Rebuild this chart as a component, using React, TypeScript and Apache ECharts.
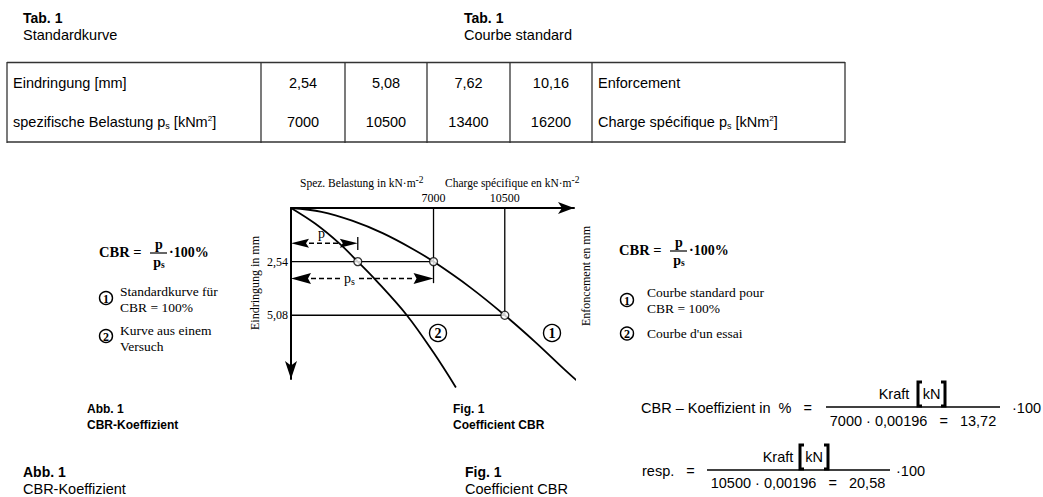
import React, { useEffect, useRef } from "react";
import * as echarts from "echarts";

const SANS = "'Liberation Sans', Arial, Helvetica, sans-serif";
const SERIF = "'Liberation Serif', 'Times New Roman', Times, serif";

// ---- Table 1 (standard curve) ----
const tableTitleDe = "Standardkurve";
const tableTitleFr = "Courbe standard";
const penetrationMm = [2.54, 5.08, 7.62, 10.16];
const standardLoad = [7000, 10500, 13400, 16200];

// ---- Fig. 1 data: [specific load kN/m², penetration mm] ----
const standardCurve = [
  [0, 0], [1500, 0.18], [3000, 0.6], [4500, 1.19], [6000, 1.95], [7000, 2.54],
  [8800, 3.76], [10500, 5.08], [12000, 6.35], [13400, 7.62], [14250, 8.36],
];
const testCurve = [
  [0, 0], [1200, 0.75], [2400, 1.7], [3280, 2.54], [4130, 3.38], [5690, 5.08],
  [7000, 6.85], [8100, 8.5],
];
const testLoadAt254 = 3280;
const xLabelValues = [7000, 10500];
const yLabelValues = [2.54, 5.08];
const pArrowDepth = 1.67;
const psArrowDepth = 3.34;
const psGuideDepth = 3.56;
const pTickRange = [1.37, 1.99];
const loadFactor = 0.00196;

const comma = (v: number, d: number) => v.toFixed(d).replace(".", ",");

function txt(text: string, x: number, y: number, o: any = {}) {
  return {
    type: "text",
    x,
    y,
    rotation: o.rotation || 0,
    silent: true,
    z: 10,
    style: {
      text,
      fill: "#000",
      fontFamily: o.family || SANS,
      fontSize: o.size || 14.5,
      fontWeight: o.weight || "normal",
      align: o.align || "left",
      verticalAlign: "middle",
      rich: o.rich,
      backgroundColor: o.bg,
      padding: o.padding,
    },
  };
}
function ln(x1: number, y1: number, x2: number, y2: number, w = 1.3, color = "#000") {
  return { type: "line", silent: true, z: 10, shape: { x1, y1, x2, y2 }, style: { stroke: color, lineWidth: w } };
}
function circled(d: string, cx: number, cy: number, r: number, size: number) {
  return [
    { type: "circle", silent: true, z: 10, shape: { cx, cy, r }, style: { fill: "none", stroke: "#000", lineWidth: 1.4 } },
    txt(d, cx, cy + 0.5, { family: SERIF, size, weight: "bold", align: "center" }),
  ];
}
function bracket(x: number, top: number, bottom: number, dir: number) {
  return {
    type: "polyline",
    silent: true,
    z: 10,
    shape: { points: [[x + dir * 4, top], [x, top], [x, bottom], [x + dir * 4, bottom]] },
    style: { stroke: "#000", lineWidth: 3, fill: "none" },
  };
}

function buildGraphic() {
  const els: any[] = [];
  // Table headings
  els.push(txt("Tab. 1", 23, 18, { weight: "bold", size: 14 }));
  els.push(txt(tableTitleDe, 23, 35));
  els.push(txt("Tab. 1", 464, 18, { weight: "bold", size: 14 }));
  els.push(txt(tableTitleFr, 464, 35));
  // Table frame
  const colX = [7, 261, 345, 427, 510, 592, 845];
  els.push(ln(7, 62.5, 845, 62.5, 1.6, "#333"));
  els.push(ln(7, 142, 845, 142, 1.6, "#333"));
  colX.forEach((x) => els.push(ln(x, 62, x, 143, 1.3, "#333")));
  const r1 = 82.5, r2 = 122;
  els.push(txt("Eindringung [mm]", 13, r1));
  const richRow = {
    a: { fontFamily: SANS, fontSize: 14.5 },
    sub: { fontFamily: SANS, fontSize: 9, padding: [7, 0, 0, 0] },
    sup: { fontFamily: SANS, fontSize: 8, padding: [0, 0, 8, 0] },
  };
  els.push(txt("{a|spezifische Belastung p}{sub|s}{a| [kNm}{sup|2}{a|]}", 13, r2, { rich: richRow }));
  penetrationMm.forEach((v, i) => {
    const cx = (colX[i + 1] + colX[i + 2]) / 2;
    els.push(txt(comma(v, 2), cx, r1, { align: "center" }));
    els.push(txt(String(standardLoad[i]), cx, r2, { align: "center" }));
  });
  els.push(txt("Enforcement", 598, r1));
  els.push(txt("{a|Charge spécifique p}{sub|s}{a| [kNm}{sup|2}{a|]}", 598, r2, { rich: richRow }));

  // Chart axis titles
  const richAx = {
    a: { fontFamily: SERIF, fontSize: 11.5 },
    s: { fontFamily: SERIF, fontSize: 9.5, padding: [0, 0, 7, 0] },
  };
  els.push(txt("{a|Spez. Belastung in kN·m}{s|-2}", 300, 183, { rich: richAx }));
  els.push(txt("{a|Charge spécifique en kN·m}{s|-2}", 445, 183, { rich: richAx }));
  els.push(txt("Eindringung in mm", 255, 283, { family: SERIF, size: 12, align: "center", rotation: Math.PI / 2 }));
  els.push(txt("Enfoncement en mm", 586, 276, { family: SERIF, size: 12, align: "center", rotation: Math.PI / 2 }));
  els.push(txt("p", 318, 233, { family: SERIF, size: 14 }));
  els.push(
    txt("{a|p}{s|s}", 342, 278.5, {
      rich: {
        a: { fontFamily: SERIF, fontSize: 14 },
        s: { fontFamily: SERIF, fontSize: 10, padding: [6, 0, 0, 0] },
      },
      bg: "#fff",
      padding: [0, 2, 0, 2],
    })
  );
  els.push(...circled("2", 438, 333, 8.5, 14));
  els.push(...circled("1", 552, 333, 8.5, 14));

  // CBR formula blocks
  const formula = (x0: number, y0: number) => {
    els.push(txt("CBR =", x0, y0, { family: SERIF, size: 14.5, weight: "bold" }));
    els.push(txt("p", x0 + 60, y0 - 7.5, { family: SERIF, size: 14, weight: "bold", align: "center" }));
    els.push(ln(x0 + 51, y0 + 1, x0 + 68, y0 + 1, 1.2));
    els.push(
      txt("{a|p}{s|s}", x0 + 60, y0 + 10.5, {
        align: "center",
        rich: {
          a: { fontFamily: SERIF, fontSize: 14, fontWeight: "bold" },
          s: { fontFamily: SERIF, fontSize: 9.5, fontWeight: "bold", padding: [5, 0, 0, 0] },
        },
      })
    );
    els.push(txt("·100%", x0 + 70, y0, { family: SERIF, size: 14, weight: "bold" }));
  };
  formula(99, 252);
  formula(619, 250);

  els.push(...circled("1", 106, 298, 6.5, 12));
  els.push(txt("Standardkurve für", 120, 291, { family: SERIF, size: 13.5 }));
  els.push(txt("CBR = 100%", 120, 307, { family: SERIF, size: 13.5 }));
  els.push(...circled("2", 106, 336, 6.5, 12));
  els.push(txt("Kurve aus einem", 120, 330, { family: SERIF, size: 13.5 }));
  els.push(txt("Versuch", 120, 346, { family: SERIF, size: 13.5 }));

  els.push(...circled("1", 627, 300, 6.5, 12));
  els.push(txt("Courbe standard pour", 647, 292.5, { family: SERIF, size: 13.5 }));
  els.push(txt("CBR = 100%", 647, 308, { family: SERIF, size: 13.5 }));
  els.push(...circled("2", 627, 333.5, 6.5, 12));
  els.push(txt("Courbe d'un essai", 647, 333.5, { family: SERIF, size: 13.5 }));

  // Captions
  els.push(txt("Abb. 1", 87, 409, { size: 12, weight: "bold" }));
  els.push(txt("CBR-Koeffizient", 87, 425, { size: 12, weight: "bold" }));
  els.push(txt("Fig. 1", 453, 409, { size: 12, weight: "bold" }));
  els.push(txt("Coefficient CBR", 453, 425, { size: 12, weight: "bold" }));
  els.push(txt("Abb. 1", 23, 472, { weight: "bold", size: 14 }));
  els.push(txt("CBR-Koeffizient", 23, 489));
  els.push(txt("Fig. 1", 465, 472, { weight: "bold", size: 14 }));
  els.push(txt("Coefficient CBR", 465, 489));

  // CBR coefficient formulas
  const f1 = standardLoad[0] * loadFactor;
  const f2 = standardLoad[1] * loadFactor;
  els.push(txt("CBR – Koeffizient in  %   =", 641, 408));
  els.push(ln(826, 407, 1000, 407, 1.3));
  els.push(txt("Kraft", 894, 394, { align: "center" }));
  els.push(bracket(918, 382, 406, 1));
  els.push(txt("kN", 931.5, 394, { align: "center" }));
  els.push(bracket(945, 382, 406, -1));
  els.push(txt(`${standardLoad[0]} · ${comma(loadFactor, 5)}   =   ${comma(f1, 2)}`, 913, 421, { align: "center" }));
  els.push(txt("·100", 1012, 408));

  els.push(txt("resp.   =", 642, 471));
  els.push(ln(707, 470, 890, 470, 1.3));
  els.push(txt("Kraft", 778, 457, { align: "center" }));
  els.push(bracket(800, 445, 469, 1));
  els.push(txt("kN", 814, 457, { align: "center" }));
  els.push(bracket(828, 445, 469, -1));
  els.push(txt(`${standardLoad[1]} · ${comma(loadFactor, 5)}   =   ${comma(f2, 2)}`, 798, 483, { align: "center" }));
  els.push(txt("·100", 896, 471));
  return els;
}

function buildOption() {
  const lineStyle = { color: "#000", width: 1.3 };
  const guide = (data: number[][]) => ({
    type: "line",
    data,
    symbol: "none",
    lineStyle,
    silent: true,
    clip: false,
    z: 2,
  });
  return {
    animation: false,
    backgroundColor: "#fff",
    textStyle: { fontFamily: SERIF },
    grid: { left: 291, top: 208, width: 283, height: 171, containLabel: false },
    xAxis: {
      type: "value",
      min: 0,
      max: 13900,
      position: "top",
      axisLine: {
        show: true,
        onZero: false,
        symbol: ["none", "arrow"],
        symbolSize: [9, 16],
        lineStyle: { color: "#000", width: 2 },
      },
      axisTick: { show: false },
      splitLine: { show: false },
      axisLabel: {
        customValues: xLabelValues,
        formatter: (v: number) => String(v),
        fontFamily: SERIF,
        fontSize: 12,
        color: "#000",
        margin: 4,
      },
    },
    yAxis: {
      type: "value",
      min: 0,
      max: 8.1,
      inverse: true,
      position: "left",
      axisLine: {
        show: true,
        onZero: false,
        symbol: ["arrow", "none"],
        symbolSize: [9, 18],
        lineStyle: { color: "#000", width: 2 },
      },
      axisTick: { show: false },
      splitLine: { show: false },
      axisLabel: {
        customValues: yLabelValues,
        formatter: (v: number) => comma(v, 2),
        fontFamily: SERIF,
        fontSize: 12,
        color: "#000",
        margin: 3,
      },
    },
    series: [
      guide([[0, penetrationMm[0]], [standardLoad[0], penetrationMm[0]]]),
      guide([[0, penetrationMm[1]], [standardLoad[1], penetrationMm[1]]]),
      guide([[standardLoad[0], 0], [standardLoad[0], psGuideDepth]]),
      guide([[standardLoad[1], 0], [standardLoad[1], penetrationMm[1]]]),
      guide([[testLoadAt254, pTickRange[0]], [testLoadAt254, pTickRange[1]]]),
      {
        type: "line",
        name: "Standardkurve",
        data: standardCurve,
        smooth: 0.35,
        symbol: "none",
        clip: false,
        lineStyle: { color: "#000", width: 1.8 },
        z: 3,
      },
      {
        type: "line",
        name: "Versuch",
        data: testCurve,
        smooth: 0.35,
        symbol: "none",
        clip: false,
        lineStyle: { color: "#000", width: 1.8 },
        z: 3,
      },
      {
        type: "custom",
        coordinateSystem: "cartesian2d",
        clip: false,
        z: 4,
        data: [
          [0, testLoadAt254, pArrowDepth, 0],
          [0, standardLoad[0], psArrowDepth, 1],
        ],
        renderItem: (params: any, api: any) => {
          const a = api.coord([api.value(0), api.value(2)]);
          const b = api.coord([api.value(1), api.value(2)]);
          const big = api.value(3) === 1;
          const L = big ? 20 : 18;
          const H = big ? 5.5 : 4.5;
          return {
            type: "group",
            children: [
              {
                type: "line",
                shape: { x1: a[0] + L, y1: a[1], x2: b[0] - L, y2: b[1] },
                style: { stroke: "#000", lineWidth: 1.7, lineDash: [5, 3] },
              },
              {
                type: "polygon",
                shape: { points: [[a[0], a[1]], [a[0] + L, a[1] - H], [a[0] + L - 3, a[1]], [a[0] + L, a[1] + H]] },
                style: { fill: "#000" },
              },
              {
                type: "polygon",
                shape: { points: [[b[0], b[1]], [b[0] - L, b[1] - H], [b[0] - L + 3, b[1]], [b[0] - L, b[1] + H]] },
                style: { fill: "#000" },
              },
            ],
          };
        },
      },
      {
        type: "scatter",
        data: [
          [testLoadAt254, penetrationMm[0]],
          [standardLoad[0], penetrationMm[0]],
          [standardLoad[1], penetrationMm[1]],
        ],
        symbol: "circle",
        symbolSize: 8,
        clip: false,
        itemStyle: { color: "#fff", borderColor: "#000", borderWidth: 1.3 },
        z: 5,
      },
    ],
    graphic: { elements: buildGraphic() },
  };
}

export default function App() {
  const ref = useRef<HTMLDivElement>(null);
  useEffect(() => {
    if (!ref.current) return;
    const chart = echarts.init(ref.current, undefined, { renderer: "svg" });
    chart.setOption(buildOption() as any);
    return () => chart.dispose();
  }, []);
  return (
    <div
      ref={ref}
      style={{ position: "fixed", left: 0, top: 0, width: 1043, height: 497, background: "#fff" }}
    />
  );
}
